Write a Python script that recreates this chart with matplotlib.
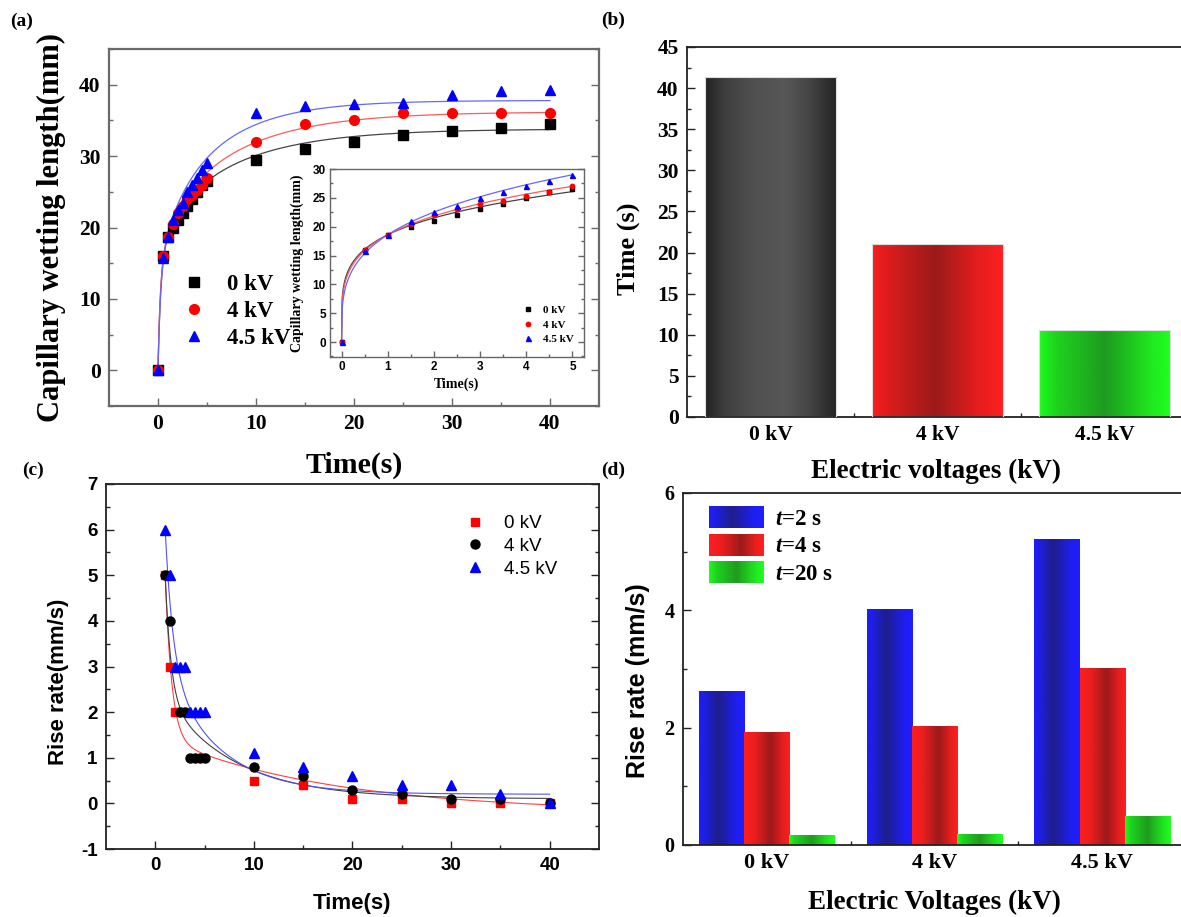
import numpy as np
import matplotlib
matplotlib.use('Agg')
import matplotlib.pyplot as plt
from matplotlib.colors import LinearSegmentedColormap
from matplotlib.legend_handler import HandlerPatch
from matplotlib.patches import Rectangle
from matplotlib.ticker import MultipleLocator, FixedLocator

SERIF = 'Liberation Serif'
SANS = 'Liberation Sans'
plt.rcParams['font.family'] = SERIF
plt.rcParams['font.weight'] = 'bold'
plt.rcParams['axes.unicode_minus'] = False
plt.rcParams['mathtext.fontset'] = 'custom'
plt.rcParams['mathtext.it'] = 'Liberation Serif:italic:bold'
plt.rcParams['mathtext.rm'] = 'Liberation Serif:bold'

# ---------------- data ----------------
# (a) capillary wetting length vs time
time_a = [0, 0.5, 1, 1.5, 2, 2.5, 3, 3.5, 4, 4.5, 5, 10, 15, 20, 25, 30, 35, 40]
length_0kV = [0, 16, 18.6, 20, 21, 22, 23, 24, 25, 26, 26.5, 29.5, 31, 32, 33, 33.5, 34, 34.5]
length_4kV = [0, 16, 18.6, 20.5, 22, 23, 24, 24.5, 25.3, 26, 27, 32, 34.5, 35, 36, 36, 36, 36]
length_45kV = [0, 15.7, 18.6, 21, 22.5, 23.5, 25, 26, 27, 28, 29, 36, 37, 37.3, 37.5, 38.5, 39.1, 39.3]
series_labels = ['0 kV', '4 kV', '4.5 kV']
# fitted curve parameters (sum of three rising exponentials)
fit_a_0kV = [15, 0.25, 6, 2, 12.8, 8.0]
fit_a_4kV = [15, 0.25, 6, 2, 15.2, 7.8]
fit_a_45kV = [14.6, 0.28, 6, 2, 17.2, 6.1]
# inset fits (power law a*t^b)
fit_in_0kV = [18.6, 0.21]
fit_in_4kV = [18.6, 0.2315]
fit_in_45kV = [18.6, 0.276]

# (b) time to reach the plateau
volt_labels = ['0 kV', '4 kV', '4.5 kV']
time_b = [41.3, 21.0, 10.6]

# (c) rise rate vs time
time_c_0kV = [1, 1.5, 2, 2.5, 10, 15, 20, 25, 30, 35, 40]
rate_c_0kV = [5, 3, 2, 2, 0.5, 0.4, 0.1, 0.1, 0.0, 0.0, 0.0]
time_c_4kV = [1, 1.5, 2.5, 3, 3.5, 4, 4.5, 5, 10, 15, 20, 25, 30, 35, 40]
rate_c_4kV = [5, 4, 2, 2, 1, 1, 1, 1, 0.8, 0.6, 0.3, 0.2, 0.1, 0.1, 0.0]
time_c_45kV = [1, 1.5, 2, 2.5, 3, 3.5, 4, 4.5, 5, 10, 15, 20, 25, 30, 35, 40]
rate_c_45kV = [6, 5, 3, 3, 3, 2, 2, 2, 2, 1.1, 0.8, 0.6, 0.4, 0.4, 0.2, 0.0]
# fitted curve parameters (double exponential decay + offset)
fit_c_0kV = [16.3, 0.665, 1.69, 17.3, -0.2]
fit_c_4kV = [15.0, 0.58, 2.56, 7.05, 0.1]
fit_c_45kV = [10.5, 0.8, 3.38, 5.34, 0.2]

# (d) rise rate at given times
rate_t2 = [2.63, 4.02, 5.22]
rate_t4 = [1.92, 2.03, 3.01]
rate_t20 = [0.165, 0.19, 0.49]
rate_labels = [r'$t$=2 s', r'$t$=4 s', r'$t$=20 s']

# ---------------- helpers ----------------
W, H = 1181, 917
fig = plt.figure(figsize=(W / 100, H / 100), dpi=100)


def rect(l, t, r, b):
    return [l / W, 1 - b / H, (r - l) / W, (b - t) / H]


def px(x, y):
    return (x / W, 1 - y / H)


def fit_rise(t, p):
    t = np.asarray(t)
    return (p[0] * (1 - np.exp(-t / p[1])) + p[2] * (1 - np.exp(-t / p[3]))
            + p[4] * (1 - np.exp(-t / p[5])))


def fit_power(t, p):
    return p[0] * np.asarray(t) ** p[1]


def fit_decay(t, p):
    t = np.asarray(t)
    return p[0] * np.exp(-t / p[1]) + p[2] * np.exp(-t / p[3]) + p[4]


def style_axes(ax, color, lw, right=True, size_major=6, size_minor=3):
    for s in ax.spines.values():
        s.set_color(color)
        s.set_linewidth(lw)
    ax.tick_params(which='both', direction='in', top=False, right=right, color=color, width=1.0)
    ax.tick_params(which='major', length=size_major)
    ax.tick_params(which='minor', length=size_minor)


def set_ticklabel_font(ax, family, size, weight='bold'):
    for lab in ax.get_xticklabels() + ax.get_yticklabels():
        lab.set_fontfamily(family)
        lab.set_fontsize(size)
        lab.set_fontweight(weight)


cm_gray = LinearSegmentedColormap.from_list('g', [(0, '#222222'), (0.15, '#3e3e3e'), (0.35, '#4f4f4f'),
                                                  (0.6, '#575757'), (0.78, '#474747'), (0.92, '#303030'),
                                                  (1, '#242424')])
cm_red_b = LinearSegmentedColormap.from_list('rb', [(0, '#fb1d1d'), (0.12, '#dc1d1d'), (0.48, '#9b1a1a'),
                                                    (0.8, '#e41e1e'), (1, '#ff2020')])
cm_green = LinearSegmentedColormap.from_list('gr', [(0, '#1cff1c'), (0.12, '#1ed41e'), (0.5, '#1e9b1e'),
                                                    (0.85, '#1fe81f'), (1, '#1fff1f')])
cm_blue = LinearSegmentedColormap.from_list('bl', [(0, '#1e1eff'), (0.1, '#1e1ee8'), (0.42, '#1e1e8c'),
                                                   (0.8, '#1e1eee'), (1, '#1e1eff')])
cm_red_d = LinearSegmentedColormap.from_list('rd', [(0, '#ff1e1e'), (0.25, '#e81e1e'), (0.58, '#9b1a1a'),
                                                    (0.85, '#e81e1e'), (1, '#ff1e1e')])
GRAD = np.linspace(0, 1, 256)[np.newaxis, :]


def gradient_bars(ax, bars, cmap):
    for b in bars:
        x0, w, h = b.get_x(), b.get_width(), b.get_height()
        im = ax.imshow(GRAD, extent=[x0, x0 + w, 0, h], cmap=cmap, aspect='auto',
                       interpolation='bilinear', zorder=2)
        im.set_clip_path(b)


class GradHandler(HandlerPatch):
    def __init__(self, cmap, n=48):
        super().__init__()
        self.cmap = cmap
        self.n = n

    def create_artists(self, legend, orig_handle, xdescent, ydescent, width, height, fontsize, trans):
        arts = []
        for i in range(self.n):
            r = Rectangle((-xdescent + width * i / self.n, -ydescent), width / self.n * 1.1, height,
                          facecolor=self.cmap((i + 0.5) / self.n), edgecolor='none', transform=trans)
            arts.append(r)
        return arts


# ---------------- (a) ----------------
axA = fig.add_axes(rect(109, 49, 599, 406))
GRAYSP = '#6a6a6a'
style_axes(axA, GRAYSP, 1.6)
t_fit = np.linspace(0, 40, 600)
lineA = [('#444444', fit_a_0kV), ('#ff5a5a', fit_a_4kV), ('#6666ff', fit_a_45kV)]
for col, p in lineA:
    axA.plot(t_fit, fit_rise(t_fit, p), color=col, lw=0.9, zorder=2)
axA.plot(time_a, length_0kV, 's', color='black', ms=6.5, ls='none', zorder=3, label=series_labels[0])
axA.plot(time_a, length_4kV, 'o', color='red', ms=7, ls='none', zorder=4, label=series_labels[1])
axA.plot(time_a, length_45kV, '^', color='blue', ms=7.5, ls='none', zorder=5, label=series_labels[2])
axA.set_xlim(-5, 45)
axA.set_ylim(-5, 45)
axA.xaxis.set_major_locator(FixedLocator([0, 10, 20, 30, 40]))
axA.xaxis.set_minor_locator(FixedLocator([5, 15, 25, 35]))
axA.yaxis.set_major_locator(FixedLocator([0, 10, 20, 30, 40]))
axA.yaxis.set_minor_locator(FixedLocator([-5, 5, 15, 25, 35, 45]))
axA.tick_params(axis='both', which='major', pad=6)
set_ticklabel_font(axA, SERIF, 15.5)
axA.set_ylabel('Capillary wetting length(mm)', fontsize=22, fontweight='bold')
axA.yaxis.set_label_coords(*px(66, 228), transform=fig.transFigure)
axA.set_xlabel('Time(s)', fontsize=21.5, fontweight='bold')
axA.xaxis.set_label_coords(*px(354, 452), transform=fig.transFigure)
axA.legend(loc='upper left', bbox_to_anchor=px(183, 274), bbox_transform=fig.transFigure,
           frameon=False, prop={'family': SERIF, 'weight': 'bold', 'size': 16.5},
           handlelength=1.0, handletextpad=0.9, labelspacing=0.25, borderpad=0, borderaxespad=0)

# inset
axI = fig.add_axes(rect(330, 169, 584, 357))
style_axes(axI, '#666666', 1.0, size_major=4, size_minor=2)
t_in = np.linspace(0, 5, 400)
for col, p in [('#444444', fit_in_0kV), ('#ff5a5a', fit_in_4kV), ('#6666ff', fit_in_45kV)]:
    axI.plot(t_in, fit_power(t_in, p), color=col, lw=0.9, zorder=2)
n_in = sum(1 for t in time_a if t <= 5)
axI.plot(time_a[:n_in], length_0kV[:n_in], 's', color='black', ms=3, ls='none', zorder=3, label=series_labels[0])
axI.plot(time_a[:n_in], length_4kV[:n_in], 'o', color='red', ms=3.2, ls='none', zorder=4, label=series_labels[1])
axI.plot(time_a[:n_in], length_45kV[:n_in], '^', color='blue', ms=3.6, ls='none', zorder=5, label=series_labels[2])
axI.set_xlim(-0.25, 5.25)
axI.set_ylim(-2.6, 30)
axI.xaxis.set_major_locator(MultipleLocator(1))
axI.xaxis.set_minor_locator(MultipleLocator(0.5))
axI.yaxis.set_major_locator(MultipleLocator(5))
axI.yaxis.set_minor_locator(MultipleLocator(2.5))
axI.tick_params(axis='both', which='major', pad=3)
set_ticklabel_font(axI, SANS, 8.5)
axI.set_ylabel('Capillary wetting length(mm)', fontsize=10, fontweight='bold')
axI.yaxis.set_label_coords(*px(304, 263), transform=fig.transFigure)
axI.set_xlabel('Time(s)', fontsize=10, fontweight='bold')
axI.xaxis.set_label_coords(*px(456, 378), transform=fig.transFigure)
axI.legend(loc='upper left', bbox_to_anchor=px(522, 305), bbox_transform=fig.transFigure,
           frameon=False, prop={'family': SERIF, 'weight': 'bold', 'size': 8},
           handlelength=1.0, handletextpad=0.9, labelspacing=0.45, borderpad=0, borderaxespad=0)

# ---------------- (b) ----------------
axB = fig.add_axes(rect(687, 47, 1188, 417))
style_axes(axB, '#222222', 1.3, right=False)
xb = np.arange(len(volt_labels))
barsB = axB.bar(xb, time_b, width=0.79, color='none', edgecolor='#dddddd', linewidth=0.8, zorder=3)
for b, cm in zip(barsB, [cm_gray, cm_red_b, cm_green]):
    gradient_bars(axB, [b], cm)
axB.set_xlim(-0.5, 2.5)
axB.set_ylim(0, 45)
axB.set_xticks(xb, volt_labels)
axB.xaxis.set_minor_locator(FixedLocator([0.5, 1.5]))
axB.yaxis.set_major_locator(MultipleLocator(5))
axB.yaxis.set_minor_locator(MultipleLocator(2.5))
axB.tick_params(axis='both', which='major', pad=6)
axB.tick_params(axis='x', which='major', length=8)
set_ticklabel_font(axB, SERIF, 15.5)
axB.set_ylabel('Time (s)', fontsize=19, fontweight='bold')
axB.yaxis.set_label_coords(*px(640, 249), transform=fig.transFigure)
axB.set_xlabel('Electric voltages (kV)', fontsize=19.5, fontweight='bold')
axB.xaxis.set_label_coords(*px(936, 459), transform=fig.transFigure)

# ---------------- (c) ----------------
axC = fig.add_axes(rect(106, 484, 599, 849))
style_axes(axC, '#222222', 1.3)
for col, p, t0 in [('#ff4040', fit_c_0kV, 1.0), ('#404040', fit_c_4kV, 1.0), ('#5050ff', fit_c_45kV, 1.0)]:
    tt = np.linspace(t0, 40, 600)
    axC.plot(tt, fit_decay(tt, p), color=col, lw=0.8, zorder=2)
axC.plot(time_c_0kV, rate_c_0kV, 's', color='red', ms=6, ls='none', zorder=3, label=series_labels[0])
axC.plot(time_c_4kV, rate_c_4kV, 'o', color='black', ms=6.5, ls='none', zorder=4, label=series_labels[1])
axC.plot(time_c_45kV, rate_c_45kV, '^', color='blue', ms=7, ls='none', zorder=5, label=series_labels[2])
axC.set_xlim(-5, 45)
axC.set_ylim(-1, 7)
axC.xaxis.set_major_locator(FixedLocator([0, 10, 20, 30, 40]))
axC.xaxis.set_minor_locator(FixedLocator([5, 15, 25, 35]))
axC.yaxis.set_major_locator(MultipleLocator(1))
axC.yaxis.set_minor_locator(MultipleLocator(0.5))
axC.tick_params(axis='both', which='major', pad=6)
set_ticklabel_font(axC, SANS, 13.5)
axC.set_ylabel('Rise rate(mm/s)', fontsize=16, fontweight='bold', fontfamily=SANS)
axC.yaxis.set_label_coords(*px(69, 682), transform=fig.transFigure)
axC.set_xlabel('Time(s)', fontsize=16, fontweight='bold', fontfamily=SANS)
axC.xaxis.set_label_coords(*px(352, 893), transform=fig.transFigure)
axC.legend(loc='upper left', bbox_to_anchor=px(466, 515), bbox_transform=fig.transFigure,
           frameon=False, prop={'family': SANS, 'weight': 'normal', 'size': 13.5},
           handlelength=1.0, handletextpad=1.0, labelspacing=0.3, borderpad=0, borderaxespad=0)

# ---------------- (d) ----------------
axD = fig.add_axes(rect(683, 493, 1186, 845))
style_axes(axD, '#222222', 1.3, right=False)
xd = np.arange(len(volt_labels))
wd = 0.27
groups = [(rate_t2, cm_blue, -wd), (rate_t4, cm_red_d, 0.0), (rate_t20, cm_green, wd)]
handles = []
for vals, cm, off in groups:
    bars = axD.bar(xd + off, vals, width=wd, color='none', edgecolor='none', zorder=3)
    gradient_bars(axD, bars, cm)
    handles.append(Rectangle((0, 0), 1, 1))
axD.set_xlim(-0.5, 2.5)
axD.set_ylim(0, 6)
axD.set_xticks(xd, volt_labels)
axD.xaxis.set_minor_locator(FixedLocator([0.5, 1.5]))
axD.yaxis.set_major_locator(MultipleLocator(2))
axD.yaxis.set_minor_locator(MultipleLocator(1))
axD.tick_params(axis='both', which='major', pad=6)
axD.tick_params(axis='x', which='major', length=8)
set_ticklabel_font(axD, SERIF, 16)
for lab in axD.get_yticklabels():
    lab.set_fontsize(14.5)
axD.set_ylabel('Rise rate (mm/s)', fontsize=18, fontweight='bold', fontfamily=SANS)
axD.yaxis.set_label_coords(*px(650, 681), transform=fig.transFigure)
axD.set_xlabel('Electric Voltages (kV)', fontsize=19.5, fontweight='bold')
axD.xaxis.set_label_coords(*px(934, 890), transform=fig.transFigure)
axD.legend(handles, rate_labels, loc='upper left', bbox_to_anchor=px(709, 506), bbox_transform=fig.transFigure,
           handler_map={h: GradHandler(g[1]) for h, g in zip(handles, groups)},
           frameon=False, prop={'family': SERIF, 'weight': 'bold', 'size': 16.5},
           handlelength=2.4, handleheight=1.1, handletextpad=0.5, labelspacing=0.17,
           borderpad=0, borderaxespad=0)

# panel letters
for txt, (x, y) in [('(a)', (22, 21)), ('(b)', (613, 20)), ('(c)', (33, 470)), ('(d)', (613, 470))]:
    fig.text(*px(x, y), txt, fontsize=14, fontweight='bold', family=SERIF, ha='center', va='center')

fig.savefig('out.png', dpi=100)
